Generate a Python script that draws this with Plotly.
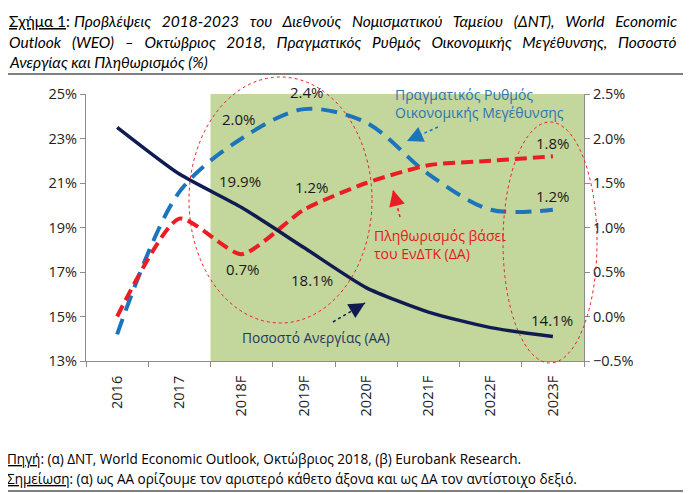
import plotly.graph_objects as go

# data
years = ["2016", "2017", "2018F", "2019F", "2020F", "2021F", "2022F", "2023F"]
unemployment = [23.5, 21.4, 19.9, 18.1, 16.3, 15.2, 14.5, 14.1]   # left axis
gdp_growth = [-0.2, 1.4, 2.0, 2.33, 2.18, 1.6, 1.2, 1.2]        # right axis
inflation = [0.0, 1.1, 0.7, 1.2, 1.5, 1.7, 1.75, 1.8]           # right axis

# the page body adds 8px around the figure, so work in screen pixels minus 8
OFF = 8
W, H = 691 - OFF, 493 - OFF
L, R, T, B = 86, 584, 94, 361   # plot area in screen pixels


def px(x):
    return (x - L) / (R - L)


def py(y):
    return (B - y) / (B - T)


NAVY = "#101C50"
BLUE = "#1C74BC"
RED = "#EC1C24"
GREEN = "#C3D69B"
AXIS = "#8C8C8C"
FONT = "Open Sans"

fig = go.Figure()

fig.add_trace(go.Scatter(
    x=years, y=gdp_growth, mode="lines", yaxis="y",
    line=dict(color=BLUE, width=4, dash="16px,9px", shape="spline", smoothing=0.9),
    name="Πραγματικός Ρυθμός Οικονομικής Μεγέθυνσης"))
fig.add_trace(go.Scatter(
    x=years, y=inflation, mode="lines", yaxis="y",
    line=dict(color=RED, width=4, dash="12px,6px", shape="spline", smoothing=0.6),
    name="Πληθωρισμός βάσει του ΕνΔΤΚ (ΔΑ)"))
fig.add_trace(go.Scatter(
    x=years, y=unemployment, mode="lines", yaxis="y2",
    line=dict(color=NAVY, width=3.5, shape="spline", smoothing=0.6),
    name="Ποσοστό Ανεργίας (ΑΑ)"))

shapes = []
# forecast period shading
shapes.append(dict(type="rect", xref="x", yref="paper", x0=1.5, x1=7.5, y0=0, y1=1,
                   fillcolor=GREEN, line=dict(width=0), layer="below"))
# dotted ellipses
for x0, x1, y0, y1 in [(189, 372, 77, 323), (503, 597, 122, 363)]:
    shapes.append(dict(type="circle", xref="paper", yref="paper",
                       x0=px(x0), x1=px(x1), y0=py(y1), y1=py(y0),
                       line=dict(color=RED, width=1, dash="dot")))
# separators above and below the chart
for yy, x1 in [(74, 691), (491, 685)]:
    shapes.append(dict(type="line", xref="paper", yref="paper",
                       x0=px(OFF), x1=px(x1), y0=py(yy), y1=py(yy),
                       line=dict(color="black", width=1.2)))
# dotted arrow shafts
arrows = [((438, 127), (407, 141), BLUE),
          ((400, 217), (393, 190), RED),
          ((333, 322), (365, 303), NAVY)]
for (tx, ty), (hx, hy), c in arrows:
    shapes.append(dict(type="line", xref="paper", yref="paper",
                       x0=px(tx), y0=py(ty), x1=px(hx), y1=py(hy),
                       line=dict(color=c, width=1.5, dash="dot")))

ann = []
for (tx, ty), (hx, hy), c in arrows:
    dx, dy = tx - hx, ty - hy
    n = (dx * dx + dy * dy) ** 0.5
    ann.append(dict(xref="paper", yref="paper", x=px(hx), y=py(hy),
                    ax=dx / n * 8, ay=dy / n * 8, text="", showarrow=True,
                    arrowhead=2, arrowsize=1.6, arrowwidth=2, arrowcolor=c))


def text(t, x, y, size, color, xanchor="center", family=FONT):
    ann.append(dict(xref="paper", yref="paper", x=px(x), y=py(y), text=t,
                    xanchor=xanchor, yanchor="middle", align=xanchor if xanchor != "center" else "center",
                    showarrow=False, font=dict(family=family, size=size, color=color)))


# value labels (screen pixel positions)
labels = [("2.4%", 307, 92), ("2.0%", 239, 119), ("19.9%", 240, 181),
          ("1.2%", 312, 187), ("0.7%", 243, 269), ("18.1%", 312, 280),
          ("1.8%", 553, 143), ("1.2%", 553, 196), ("14.1%", 552, 320)]
for t, x, y in labels:
    text(t, x, y, 15, "#1A1A1A")

text("Πραγματικός Ρυθμός<br>Οικονομικής Μεγέθυνσης", 393, 103, 14, "#2E75B6", "left")
text("Πληθωρισμός βάσει<br>του ΕνΔΤΚ (ΔΑ)", 372, 244, 14, "#E8161B", "left")
text("Ποσοστό Ανεργίας (ΑΑ)", 316, 337, 13.7, "#1F3864")

# title and footnotes (extra spaces imitate the justified text)
sp = "\u2002 "
title_lines = [
    "<u>Σχήμα 1</u>: <i>" + sp.join("Προβλέψεις 2018-2023 του Διεθνούς Νομισματικού "
                                    "Ταμείου (ΔΝΤ), World Economic".split(" ")) + "</i>",
    "<i>" + sp.join("Outlook (WEO) – Οκτώβριος 2018, Πραγματικός Ρυθμός Οικονομικής "
                    "Μεγέθυνσης, Ποσοστό".split(" ")) + "</i>",
    "<i>Ανεργίας και Πληθωρισμός (%)</i>",
]
for t, y in zip(title_lines, [21, 42, 62]):
    text(t, 7, y, 15.5, "black", "left", "Lato")
foot_lines = [
    "<u>Πηγή</u>: (α) ΔΝΤ, World Economic Outlook, Οκτώβριος 2018, (β) Eurobank Research.",
    "<u>Σημείωση</u>: (α) ως ΑΑ ορίζουμε τον αριστερό κάθετο άξονα και ως ΔΑ τον αντίστοιχο δεξιό.",
]
for t, y in zip(foot_lines, [459, 479]):
    text(t, 5, y, 13.55, "black", "left")

axis_common = dict(showline=True, linecolor=AXIS, linewidth=1, ticks="outside",
                   ticklen=5, tickcolor=AXIS, showgrid=False, zeroline=False,
                   automargin=False,
                   tickfont=dict(family=FONT, size=14.5, color="#222222"))

fig.update_layout(
    width=W, height=H,
    margin=dict(l=L - OFF, r=W - (R - OFF), t=T - OFF, b=H - (B - OFF)),
    paper_bgcolor="white", plot_bgcolor="white",
    showlegend=False,
    xaxis=dict(type="category", range=[-0.5, 7.5], tickson="boundaries",
               tickangle=-90, ticklabelstandoff=8, **axis_common),
    yaxis=dict(side="right", range=[-0.5, 2.5], dtick=0.5, tick0=0, tickformat=".1f",
               ticksuffix="%", **axis_common),
    yaxis2=dict(side="left", overlaying="y", range=[13, 25], dtick=2, tick0=13,
                ticksuffix="%", **axis_common),
    shapes=shapes,
    annotations=ann,
)

fig.write_html("out.html")
